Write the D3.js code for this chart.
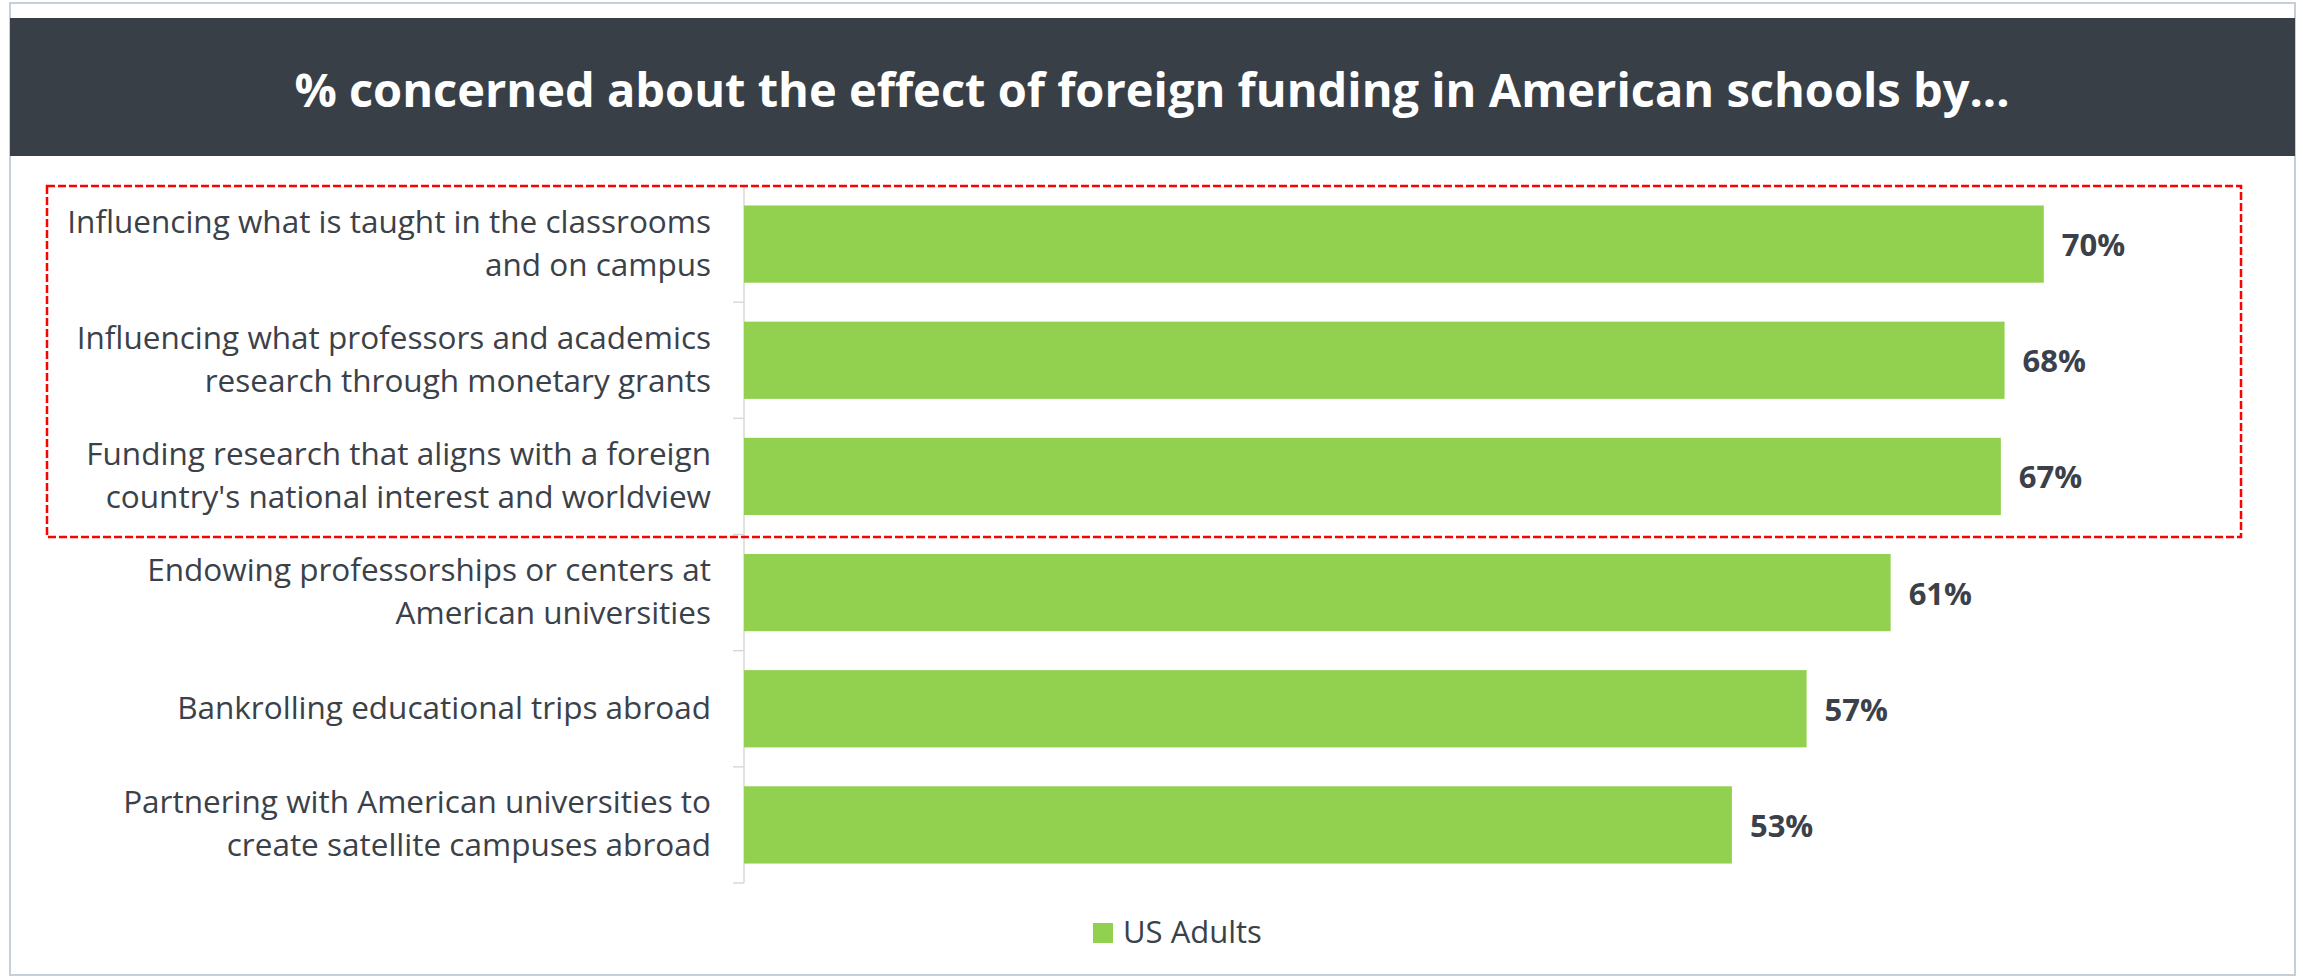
<!DOCTYPE html>
<html>
<head>
<meta charset="utf-8">
<script src="https://cdn.jsdelivr.net/npm/d3@7"></script>
<style>
  html, body { margin: 0; padding: 0; background: #ffffff; }
  svg { display: block; }
</style>
</head>
<body>
<svg id="chart" width="2303" height="977"></svg>
<script>
// ---- data ----
const title = "% concerned about the effect of foreign funding in American schools by...";
const categories = [
  ["Influencing what is taught in the classrooms", "and on campus"],
  ["Influencing what professors and academics", "research through monetary grants"],
  ["Funding research that aligns with a foreign", "country's national interest and worldview"],
  ["Endowing professorships or centers at", "American universities"],
  ["Bankrolling educational trips abroad"],
  ["Partnering with American universities to", "create satellite campuses abroad"]
];
const usAdults = [69.6, 67.5, 67.3, 61.4, 56.9, 52.9];
const seriesName = "US Adults";
const highlighted = [0, 1, 2];

// ---- layout ----
const W = 2303, H = 977;
const plot = { left: 744, right: 2238, top: 186, bottom: 883 };
const green = "#92d050";
const dark = "#3b4149";
const font = "'Open Sans', 'Noto Sans', sans-serif";

const svg = d3.select("#chart");

// outer frame
svg.append("rect").attr("x", 10).attr("y", 3).attr("width", 2285).attr("height", 972)
  .attr("fill", "#ffffff").attr("stroke", "#c5cfd8").attr("stroke-width", 2);

// title band
svg.append("rect").attr("x", 10).attr("y", 18).attr("width", 2285).attr("height", 138)
  .attr("fill", "#383f47");
svg.append("text").attr("x", 1152).attr("y", 107)
  .attr("text-anchor", "middle").attr("fill", "#ffffff")
  .attr("font-family", font).attr("font-weight", 700).attr("font-size", 47)
  .text(title);

const idx = d3.range(categories.length);
const y = d3.scaleBand().domain(idx).range([plot.top, plot.bottom])
  .paddingInner(0.335).paddingOuter(0.1675);
const x = d3.scaleLinear().domain([0, 80]).range([plot.left, plot.right]);

// axis (category) with ticks at band boundaries
const axisG = svg.append("g");
axisG.append("line").attr("x1", plot.left).attr("x2", plot.left)
  .attr("y1", plot.top).attr("y2", plot.bottom)
  .attr("stroke", "#d9d9d9").attr("stroke-width", 1.5);
const step = y.step();
axisG.selectAll("line.tick").data(d3.range(categories.length + 1)).join("line")
  .attr("class", "tick")
  .attr("x1", plot.left - 11).attr("x2", plot.left)
  .attr("y1", i => plot.top + i * step).attr("y2", i => plot.top + i * step)
  .attr("stroke", "#d9d9d9").attr("stroke-width", 1.5);

// bars
svg.selectAll("rect.bar").data(usAdults).join("rect")
  .attr("class", "bar")
  .attr("x", x(0))
  .attr("y", (d, i) => y(i))
  .attr("width", d => x(d) - x(0))
  .attr("height", y.bandwidth())
  .attr("fill", green);

// value labels
svg.selectAll("text.val").data(usAdults).join("text")
  .attr("class", "val")
  .attr("x", d => x(d) + 18)
  .attr("y", (d, i) => y(i) + y.bandwidth() / 2 + 12)
  .attr("fill", dark).attr("font-family", font).attr("font-weight", 700)
  .attr("font-size", 31)
  .text(d => Math.round(d) + "%");

// category labels
const lineH = 43;
svg.selectAll("text.cat").data(categories).join("text")
  .attr("class", "cat")
  .attr("text-anchor", "end")
  .attr("fill", dark).attr("font-family", font).attr("font-size", 31.5)
  .each(function (lines, i) {
    const c = y(i) + y.bandwidth() / 2;
    d3.select(this).selectAll("tspan").data(lines).join("tspan")
      .attr("x", 711)
      .attr("y", (l, j) => c + 10 + (j - (lines.length - 1) / 2) * lineH)
      .text(l => l);
  });

// highlight box around the first three categories
svg.append("rect")
  .attr("x", 47).attr("y", plot.top)
  .attr("width", 2241 - 47).attr("height", 537 - plot.top)
  .attr("fill", "none").attr("stroke", "#ff0000").attr("stroke-width", 2.5)
  .attr("stroke-dasharray", "8,3");

// legend
const lg = svg.append("g");
lg.append("rect").attr("x", 1093).attr("y", 923).attr("width", 20).attr("height", 20).attr("fill", green);
lg.append("text").attr("x", 1123).attr("y", 943)
  .attr("fill", dark).attr("font-family", font).attr("font-size", 31)
  .text(seriesName);
</script>
</body>
</html>
